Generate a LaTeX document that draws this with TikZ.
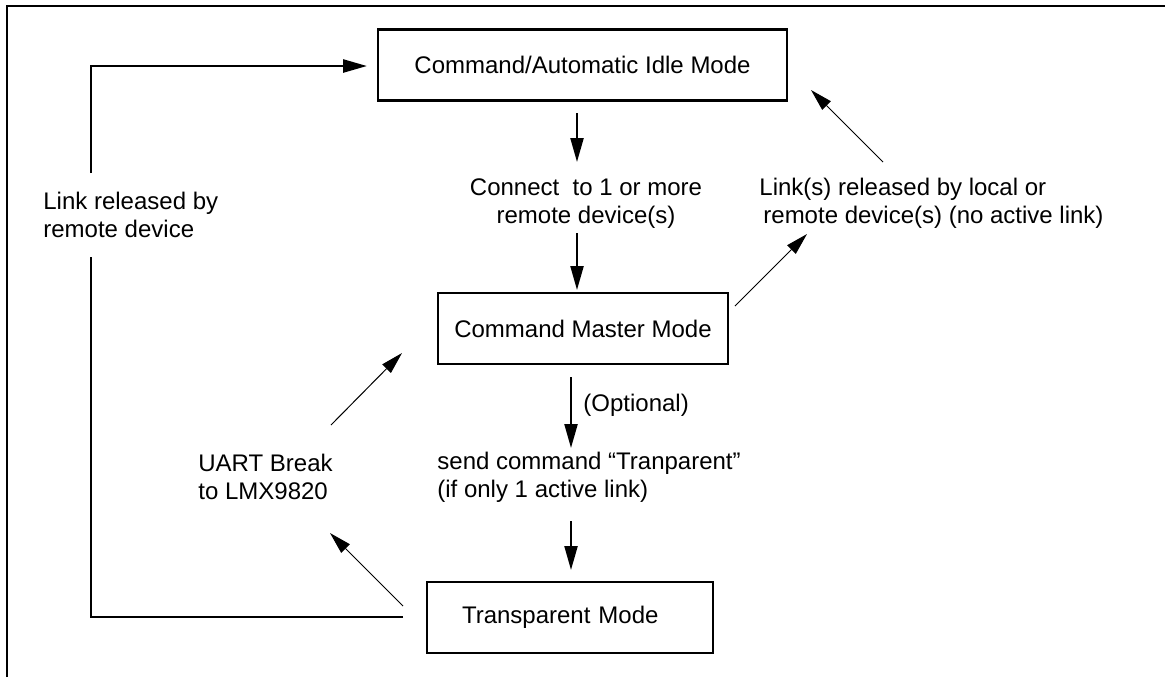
\documentclass[tikz,border=0pt]{standalone}
\usepackage{fontspec}
\setmainfont{Liberation Sans}
\usetikzlibrary{arrows.meta}
\begin{document}
\begin{tikzpicture}[x=0.5pt,y=-0.5pt,
  every node/.style={font=\fontsize{12pt}{14pt}\selectfont},
  modebox/.style={draw, line width=1.2pt, minimum height=35.5pt, inner ysep=0pt},
  note/.style={inner sep=0pt, align=left},
  frameline/.style={line width=1.3pt},
  loopline/.style={line width=1.3pt},
  vline/.style={line width=1.1pt, -{Triangle[length=12pt,width=6.5pt]}},
  dline/.style={line width=0.5pt, -{Triangle[length=11pt,width=6pt]}}]
\useasboundingbox (0,0) rectangle (1165,677);
% outer frame (top and left edges)
\draw[frameline] (7,677) -- (7,6) -- (1165,6);

% mode boxes
\node[modebox, minimum width=204.5pt] (idle) at (582.5,65) {Command/Automatic Idle Mode};
\node[modebox, minimum width=145pt] (master) at (583,328.5) {Command Master Mode};
\node[modebox, minimum width=143pt, inner xsep=17.5pt, text width=108pt, align=left] (transp) at (570,617.5) {Transparent Mode};

% transition labels
\node[note, align=center] (connect) at (586,204) {Connect\ \ to 1 or more\\remote device(s)};
\node[note, anchor=west] (released) at (759,203) {Link(s) released by local or\\\hspace{2pt}remote device(s) (no active link)};
\node[note, anchor=west] (optional) at (583,405) {(Optional)};
\node[note, anchor=west] (send) at (437,477) {send command “Tranparent”\\(if only 1 active link)};
\node[note, anchor=west] (uart) at (198,477) {UART Break\\to LMX9820};
\node[note, anchor=west] (remote) at (43,215) {Link released by\\remote device};

% connector end points
\coordinate (a1s) at (577,113);
\coordinate (a1e) at (577,162);
\coordinate (a2s) at (577,233);
\coordinate (a2e) at (577,290);
\coordinate (a3s) at (571,377);
\coordinate (a3e) at (571,448);
\coordinate (a4s) at (571,521);
\coordinate (a4e) at (571,570);
\coordinate (d1s) at (883,162);
\coordinate (d1e) at (811,90);
\coordinate (d2s) at (735,306);
\coordinate (d2e) at (807,234);
\coordinate (d3s) at (403,606);
\coordinate (d3e) at (330,533);
\coordinate (d4s) at (331,425);
\coordinate (d4e) at (402,353);
\coordinate (ls) at (403,617);
\coordinate (lb) at (91,257);
\coordinate (lt) at (91,173);
\coordinate (le) at (367,66);

% vertical transitions
\draw[vline] (a1s) -- (a1e);
\draw[vline] (a2s) -- (a2e);
\draw[vline] (a3s) -- (a3e);
\draw[vline] (a4s) -- (a4e);

% diagonal transitions
\draw[dline] (d1s) -- (d1e);
\draw[dline] (d2s) -- (d2e);
\draw[dline] (d3s) -- (d3e);
\draw[dline] (d4s) -- (d4e);

% return loop from transparent mode to idle mode
\draw[loopline] (ls) -| (lb);
\draw[loopline, -{Triangle[length=12pt,width=6.5pt]}] (lt) |- (le);
\end{tikzpicture}
\end{document}
